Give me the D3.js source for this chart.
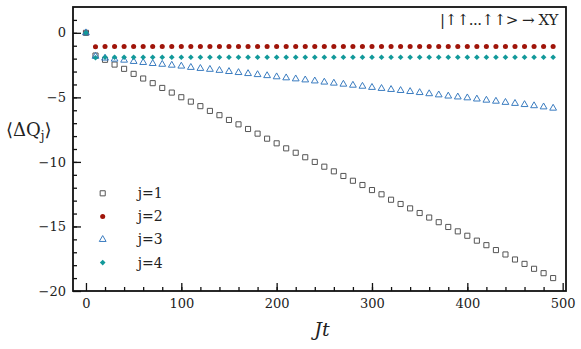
<!DOCTYPE html>
<html>
<head>
<meta charset="utf-8">
<script src="https://cdn.jsdelivr.net/npm/d3@7"></script>
<style>
  body { margin: 0; background: #fff; }
  svg text { font-family: "DejaVu Serif", serif; }
</style>
</head>
<body>
<div class="chart"></div>
<script>
var svgWidth = 581;
var svgHeight = 349;

var margin = { top: 7, right: 15, bottom: 58, left: 73 };
var width = svgWidth - margin.left - margin.right;
var height = svgHeight - margin.top - margin.bottom;

// data
var times = d3.range(0, 500, 10);
var q1 = [0, -1.76, -2.09, -2.46, -2.79, -3.18, -3.54, -3.9, -4.27, -4.63,
  -4.99, -5.33, -5.68, -6.05, -6.38, -6.75, -7.09, -7.45, -7.81, -8.2,
  -8.56, -8.95, -9.29, -9.64, -10.0, -10.37, -10.73, -11.09, -11.46, -11.79,
  -12.18, -12.51, -12.93, -13.26, -13.6, -13.96, -14.31, -14.67, -15.04, -15.38,
  -15.72, -16.1, -16.45, -16.83, -17.17, -17.56, -17.9, -18.28, -18.62, -19.0];
var q2 = [0, -1.08, -1.06, -1.06, -1.06, -1.06, -1.06, -1.06, -1.06, -1.06,
  -1.06, -1.06, -1.06, -1.06, -1.06, -1.06, -1.06, -1.06, -1.06, -1.06,
  -1.06, -1.06, -1.06, -1.06, -1.06, -1.06, -1.06, -1.06, -1.06, -1.06,
  -1.06, -1.06, -1.06, -1.06, -1.06, -1.06, -1.06, -1.06, -1.06, -1.06,
  -1.06, -1.06, -1.06, -1.06, -1.06, -1.06, -1.06, -1.06, -1.06, -1.06];
var q3 = [0, -1.82, -1.96, -2.04, -2.12, -2.22, -2.3, -2.38, -2.44, -2.51,
  -2.58, -2.68, -2.76, -2.83, -2.91, -3.0, -3.08, -3.16, -3.24, -3.32,
  -3.41, -3.49, -3.57, -3.65, -3.73, -3.82, -3.9, -3.98, -4.06, -4.14,
  -4.23, -4.31, -4.39, -4.47, -4.55, -4.63, -4.72, -4.81, -4.9, -4.97,
  -5.04, -5.13, -5.22, -5.3, -5.39, -5.47, -5.56, -5.65, -5.74, -5.84];
var q4 = [0, -1.93, -1.89, -1.89, -1.89, -1.89, -1.89, -1.89, -1.89, -1.89,
  -1.89, -1.89, -1.89, -1.89, -1.89, -1.89, -1.89, -1.89, -1.89, -1.89,
  -1.89, -1.89, -1.89, -1.89, -1.89, -1.89, -1.89, -1.89, -1.89, -1.89,
  -1.89, -1.89, -1.89, -1.89, -1.89, -1.89, -1.89, -1.89, -1.89, -1.89,
  -1.89, -1.89, -1.89, -1.89, -1.89, -1.89, -1.89, -1.89, -1.89, -1.89];
var seriesNames = ["j=1", "j=2", "j=3", "j=4"];
var xTicks = [0, 100, 200, 300, 400, 500];
var yTicks = [0, -5, -10, -15, -20];

var series = [
  { name: seriesNames[0], values: q1, symbol: d3.symbolSquare, size: 26, rot: 0, fill: "none", stroke: "#555555" },
  { name: seriesNames[1], values: q2, symbol: d3.symbolCircle, size: 20, rot: 0, fill: "#a0150a", stroke: "none" },
  { name: seriesNames[2], values: q3, symbol: d3.symbolTriangle, size: 20, rot: 0, fill: "none", stroke: "#3a7cc0" },
  { name: seriesNames[3], values: q4, symbol: d3.symbolSquare, size: 16, rot: 45, fill: "#12999a", stroke: "none" }
];

var svg = d3.select(".chart")
  .append("svg")
  .attr("width", svgWidth)
  .attr("height", svgHeight);

var chartGroup = svg.append("g")
  .attr("transform", `translate(${margin.left}, ${margin.top})`);

var xScale = d3.scaleLinear().domain([-13.6, 503.5]).range([0, width]);
var yScale = d3.scaleLinear().domain([-20, 2]).range([height, 0]);

// minor ticks
chartGroup.append("g")
  .attr("transform", `translate(0, ${height})`)
  .call(d3.axisBottom(xScale).tickValues(d3.range(20, 500, 20)).tickSizeInner(-4).tickSizeOuter(0).tickFormat(""))
  .call(g => g.select(".domain").remove());
chartGroup.append("g")
  .call(d3.axisLeft(yScale).tickValues(d3.range(-19, 2, 1)).tickSizeInner(-4).tickSizeOuter(0).tickFormat(""))
  .call(g => g.select(".domain").remove());

// major ticks
var xAxis = chartGroup.append("g")
  .attr("transform", `translate(0, ${height})`)
  .call(d3.axisBottom(xScale).tickValues(xTicks).tickSizeInner(-8).tickSizeOuter(0).tickPadding(8));
xAxis.select(".domain").remove();
xAxis.attr("font-size", 13);
xAxis.selectAll("text").attr("fill", "#222");

var yAxis = chartGroup.append("g")
  .call(d3.axisLeft(yScale).tickValues(yTicks).tickSizeInner(-8).tickSizeOuter(0).tickPadding(7));
yAxis.select(".domain").remove();
yAxis.attr("font-size", 13);
yAxis.selectAll("text").attr("fill", "#222");

chartGroup.selectAll(".tick line").attr("stroke", "#111").attr("stroke-width", 1.3);

// markers
series.forEach(function(s) {
  chartGroup.append("g").selectAll("path")
    .data(times.map((t, i) => [t, s.values[i]]))
    .enter()
    .append("path")
    .attr("d", d3.symbol().type(s.symbol).size(s.size))
    .attr("transform", d => `translate(${xScale(d[0])}, ${yScale(d[1])}) rotate(${s.rot})`)
    .attr("fill", s.fill)
    .attr("stroke", s.stroke)
    .attr("stroke-width", 1);
});

// frame
chartGroup.append("rect")
  .attr("width", width)
  .attr("height", height)
  .attr("fill", "none")
  .attr("stroke", "#111")
  .attr("stroke-width", 1.8);

// legend
var legend = chartGroup.selectAll(".legend")
  .data(series)
  .enter()
  .append("g")
  .attr("transform", (d, i) => `translate(${102.7 - margin.left}, ${193.3 - margin.top + i * 23.1})`);
legend.append("path")
  .attr("d", d => d3.symbol().type(d.symbol).size(d.size)())
  .attr("transform", d => `rotate(${d.rot})`)
  .attr("fill", d => d.fill)
  .attr("stroke", d => d.stroke);
legend.append("text")
  .attr("x", 35)
  .attr("dy", "0.35em")
  .attr("font-size", "14px")
  .attr("fill", "#222")
  .text(d => d.name);

// annotation
chartGroup.append("text")
  .attr("x", width - 8)
  .attr("y", 18)
  .attr("text-anchor", "end")
  .attr("font-size", "15px")
  .attr("letter-spacing", "-0.5")
  .attr("fill", "#222")
  .text("|↑↑...↑↑> → XY");

// axis labels
var yLabel = svg.append("text")
  .attr("x", 6)
  .attr("y", 136)
  .attr("font-size", "18px")
  .attr("fill", "#222");
yLabel.append("tspan").text("⟨ΔQ");
yLabel.append("tspan").attr("font-size", "12px").attr("dy", 4).text("j");
yLabel.append("tspan").attr("dy", -4).text("⟩");

svg.append("text")
  .attr("x", 322)
  .attr("y", 336)
  .attr("text-anchor", "middle")
  .attr("font-size", "19px")
  .attr("font-style", "italic")
  .attr("fill", "#222")
  .text("Jt");
</script>
</body>
</html>
